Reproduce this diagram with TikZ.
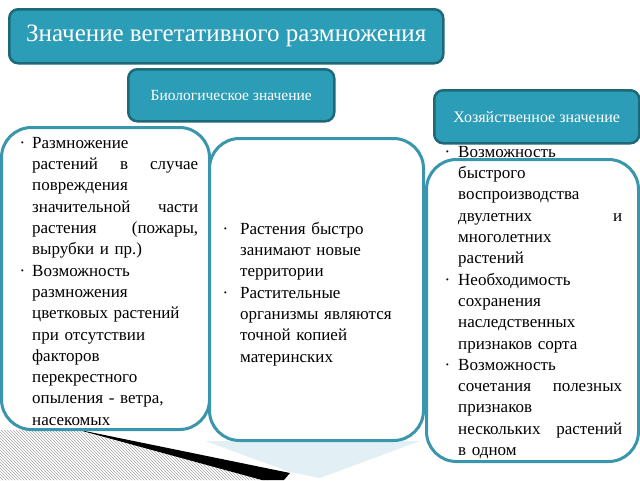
\documentclass[tikz,border=0pt]{standalone}
\usepackage{fontspec}
\setmainfont{Liberation Serif}
\usetikzlibrary{patterns}
\definecolor{headfill}{RGB}{44,157,183}
\definecolor{headline}{RGB}{30,104,120}
\definecolor{boxline}{RGB}{58,150,172}
\definecolor{paleblue}{RGB}{214,234,242}
\newcommand{\bmark}[1]{\leavevmode\llap{·\hspace{#1}}}
\newcommand{\jl}[2]{\leavevmode\hbox to #1{#2}}
\tikzset{
  headbox/.style={draw=headline, line width=2.5pt, fill=headfill, rounded corners=9pt, inner sep=0pt, text=white},
  cardbox/.style={draw=boxline, line width=3pt, fill=white, rounded corners=30pt, inner sep=0pt},
  cardtext/.style={anchor=north west, inner sep=0pt, align=left, font=\fontsize{17}{21.3}\selectfont}
}
\begin{document}
\begin{tikzpicture}[x=1pt,y=-1pt]
\useasboundingbox (0,0) rectangle (640,480);
% decoration at the bottom
\fill[paleblue!70] (205,441) -- (420,441) -- (320,478) -- (290,472) -- cycle;
\fill[pattern=north west lines, pattern color=gray!70] (0,430) -- (75,430) -- (268,480) -- (0,480) -- cycle;
\fill[black] (75,429) -- (290,473) -- (284,480) -- (262,480) -- cycle;
% heading boxes
\node[headbox, minimum width=434pt, minimum height=54pt, anchor=north west, font=\fontsize{25}{30}\selectfont] (title) at (8,8) {Значение вегетативного размножения};
\node[headbox, minimum width=206pt, minimum height=52pt, anchor=north west, font=\fontsize{15.5}{18}\selectfont] (bio) at (127,68) {Биологическое значение};
\node[headbox, minimum width=205pt, minimum height=53pt, anchor=north west, font=\fontsize{16}{18}\selectfont] (econ) at (433,89) {Хозяйственное значение};
% cards
\node[cardbox, minimum width=208pt, minimum height=302pt, anchor=north west] (left) at (0,126) {};
\node[cardbox, minimum width=214pt, minimum height=302pt, anchor=north west] (mid) at (208,137) {};
\node[cardbox, minimum width=212pt, minimum height=302pt, anchor=north west] (right) at (425,158) {};
% texts
\node[cardtext, text width=166pt] (lefttext) at (32,137) {%
\bmark{7pt}Размножение\\
\jl{166pt}{растений\hfill в\hfill случае}\\
повреждения\\
\jl{166pt}{значительной\hfill части}\\
\jl{166pt}{растения\hfill (пожары,}\\
вырубки и пр.)\\
\bmark{7pt}Возможность\\
размножения\\
цветковых растений\\
при отсутствии\\
факторов\\
перекрестного\\
опыления - ветра,\\
насекомых};
\node[cardtext, text width=170pt] (midtext) at (240,222) {%
\bmark{12pt}Растения быстро\\
занимают новые\\
территории\\
\bmark{12pt}Растительные\\
организмы являются\\
точной копией\\
материнских};
\node[cardtext, text width=164pt] (righttext) at (458,146) {%
\bmark{8pt}Возможность\\
быстрого\\
воспроизводства\\
\jl{164pt}{двулетних\hfill и}\\
многолетних\\
растений\\
\bmark{8pt}Необходимость\\
сохранения\\
наследственных\\
признаков сорта\\
\bmark{8pt}Возможность\\
\jl{164pt}{сочетания\hfill полезных}\\
признаков\\
\jl{164pt}{нескольких\hfill растений}\\
в одном};
\end{tikzpicture}
\end{document}
